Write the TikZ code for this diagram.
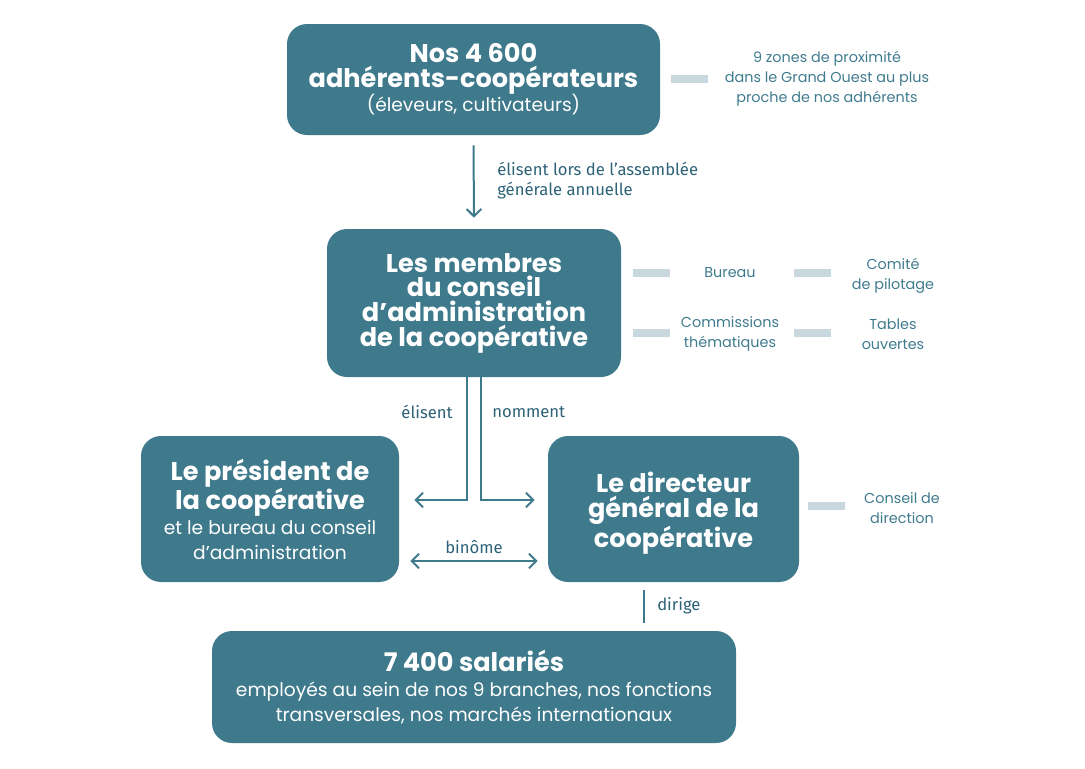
\documentclass[tikz,border=0pt]{standalone}
\usepackage{fontspec}
\setmainfont{Poppins}
\newfontfamily\handfont{Fira Sans}
\usepackage{xcolor}
\usetikzlibrary{arrows.meta,calc,positioning}

\definecolor{boxteal}{HTML}{3E798C}
\definecolor{sideteal}{HTML}{3F7B8E}
\definecolor{barblue}{HTML}{C9D8DF}
\definecolor{handteal}{HTML}{2D6277}

\newcommand{\bigbold}{\fontsize{19.2}{18.5}\selectfont\bfseries}
\newcommand{\boxtext}{\fontsize{14}{18}\selectfont\mdseries}

\tikzset{
  orgbox/.style={fill=boxteal, rounded corners=15pt, text=white, align=center, inner sep=0pt, font=\bigbold},
  sidetext/.style={text=sideteal, align=center, inner sep=0pt, font=\fontsize{10.8}{15}\selectfont},
  handlabel/.style={text=handteal, inner sep=0pt, font=\handfont\fontsize{12.5}{15}\selectfont},
  sidebar/.style={barblue, line width=6pt},
  link/.style={boxteal, line width=1.5pt},
  arr/.style={link, -{Straight Barb[length=5.5pt,width=11pt,line width=1.5pt]}},
  dblarr/.style={link, {Straight Barb[length=5.5pt,width=11pt,line width=1.5pt]}-{Straight Barb[length=5.5pt,width=11pt,line width=1.5pt]}}
}

\begin{document}
\begin{tikzpicture}[x=0.75pt,y=-0.75pt]
\useasboundingbox (0,0) rectangle (1085,768);

%Shape: boxes
\node[orgbox, minimum width=279.75pt, minimum height=83.25pt] (adh) at (473.5,79.5)
  {Nos 4 600\\adhérents-coopérateurs\\{\boxtext (éleveurs, cultivateurs)}};
\node[orgbox, minimum width=220.5pt, minimum height=111pt] (cons) at (474,303)
  {Les membres\\du conseil\\d’administration\\de la coopérative};
\node[orgbox, minimum width=193.5pt, minimum height=109.5pt] (pres) at (270,509)
  {Le président de\\la coopérative\\{\boxtext et le bureau du conseil}\\{\boxtext d'administration}};
\node[orgbox, minimum width=188.25pt, minimum height=109.5pt] (dir) at (673.5,509) {};
\node[orgbox] (dirtxt) at (673.5,513) {Le directeur\\général de la\\coopérative};
\node[orgbox, minimum width=393pt, minimum height=84pt] (sal) at (474,687)
  {7 400 salariés\\{\boxtext employés au sein de nos 9 branches, nos fonctions}\\{\boxtext transversales, nos marchés internationaux}};

% Text Node: side notes
\node[sidetext] (zones) at (827,79) {9 zones de proximité\\dans le Grand Ouest au plus\\proche de nos adhérents};
\node[sidetext] (bureau) at (730,273) {Bureau};
\node[sidetext] (comite) at (893,276) {Comité\\de pilotage};
\node[sidetext] (commis) at (730,334) {Commissions\\thématiques};
\node[sidetext] (tables) at (893,334) {Tables\\ouvertes};
\node[sidetext] (cdir) at (902,508) {Conseil de\\direction};

%Straight Lines: side bars
\draw[sidebar] (671,79) -- (708,79);
\draw[sidebar] (633,273) -- (670,273);
\draw[sidebar] (794,273) -- (831,273);
\draw[sidebar] (633,333) -- (670,333);
\draw[sidebar] (794,333) -- (831,333);
\draw[sidebar] (808,506) -- (845,506);

%Straight Lines: connectors
\draw[arr] ($(adh.south)+(0,10)$) -- ($(cons.north)+(0,-11)$);
\draw[arr] ($(cons.south)+(-7,0)$) |- ($(pres.east)+(15,-9)$);
\draw[arr] ($(cons.south)+(7,0)$) |- ($(dir.west)+(-13,-9)$);
\draw[dblarr] ($(pres.east)+(11,52)$) -- ($(dir.west)+(-10,52)$);
\draw[link] ($(dir.south)+(-29.5,8)$) -- ($(sal.north)+(170,-8)$);

% Text Node: labels
\node[handlabel, anchor=west, align=left] (elire) at (497,181) {élisent lors de l’assemblée\\générale annuelle};
\node[handlabel, anchor=east] (elisent) at (453,412) {élisent};
\node[handlabel, anchor=west] (nomment) at (492,412) {nomment};
\node[handlabel] (binome) at (474,547) {binôme};
\node[handlabel, anchor=west] (dirige) at (657,606) {dirige};

\end{tikzpicture}
\end{document}
